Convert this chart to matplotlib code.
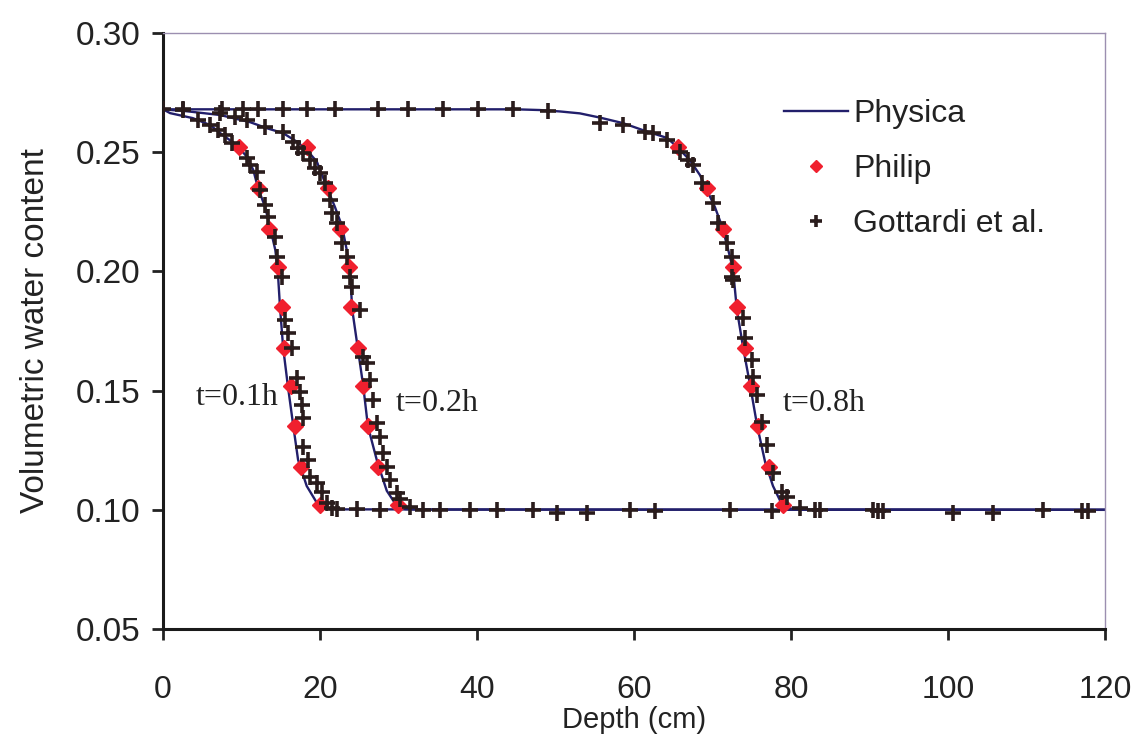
import matplotlib
matplotlib.use("Agg")
import matplotlib.pyplot as plt

# ---- Physica simulation curves (depth cm, volumetric water content) ----
physica_01_depth = [0, 0.9, 3.8, 6.0, 7.6, 9.4, 10.7, 11.5, 12.1, 13.0, 13.6, 14.3, 14.6,
                    14.9, 15.3, 15.9, 16.6, 17.2, 18.3, 19.6, 20.9, 22.5, 120]
physica_01_theta = [0.268, 0.2664, 0.2643, 0.2614, 0.2572, 0.253, 0.248, 0.2425, 0.235, 0.227,
                    0.219, 0.209, 0.201, 0.185, 0.168, 0.152, 0.135, 0.121, 0.110, 0.1029,
                    0.1008, 0.1002, 0.100]

physica_02_depth = [0, 3.0, 7.3, 11.1, 13.2, 15.3, 17.1, 18.3, 19.6, 20.9, 21.9, 22.8, 23.4,
                    23.8, 24.1, 24.8, 25.5, 26.1, 27.3, 28.5, 29.9, 30.9, 32.5, 120]
physica_02_theta = [0.268, 0.2672, 0.2656, 0.2626, 0.2601, 0.258, 0.2543, 0.251, 0.246, 0.235,
                    0.227, 0.219, 0.209, 0.201, 0.184, 0.168, 0.152, 0.135, 0.120, 0.108,
                    0.101, 0.1003, 0.1001, 0.100]

physica_08_depth = [0, 45.0, 48.0, 50.6, 53.1, 55.7, 58.6, 61.1, 64.2, 65.5, 67.1, 68.4, 69.3,
                    70.3, 71.2, 72.0, 72.6, 73.1, 73.9, 74.8, 75.7, 76.7, 77.7, 79.0, 80.5,
                    82.0, 120]
physica_08_theta = [0.268, 0.268, 0.2677, 0.2671, 0.2663, 0.2645, 0.2622, 0.2593, 0.256, 0.2522,
                    0.2467, 0.2404, 0.234, 0.227, 0.219, 0.209, 0.201, 0.184, 0.168, 0.152,
                    0.135, 0.120, 0.110, 0.1012, 0.1002, 0.1001, 0.100]

# ---- Philip analytical solution ----
philip_theta = [0.252, 0.235, 0.218, 0.202, 0.185, 0.168, 0.152, 0.135, 0.118, 0.102]
philip_01_depth = [9.7, 12.1, 13.5, 14.6, 15.2, 15.4, 16.3, 16.8, 17.6, 20.0]
philip_02_depth = [18.3, 21.0, 22.5, 23.7, 23.9, 24.8, 25.5, 26.1, 27.4, 29.9]
philip_08_depth = [65.6, 69.3, 71.3, 72.6, 73.1, 74.1, 74.9, 75.8, 77.2, 79.0]

# ---- Gottardi et al. numerical results ----
gott_01_depth = [2.5, 4.5, 6.0, 7.0, 7.9, 8.8, 10.7, 11.1, 12.0, 12.4, 13.0, 13.4, 14.3, 14.5,
                 15.2, 15.5, 15.9, 16.4, 17.1, 17.5, 17.7, 17.8, 17.8, 18.5, 18.7, 19.6,
                 20.3, 20.9, 21.5, 22.2, 24.7, 27.6]
gott_01_theta = [0.2677, 0.2635, 0.2614, 0.2593, 0.2572, 0.2539, 0.2476, 0.2446, 0.2417,
                 0.2341, 0.2279, 0.2228, 0.2144, 0.2060, 0.1977, 0.1796, 0.1742, 0.1679,
                 0.1553, 0.1494, 0.1440, 0.1385, 0.1263, 0.1209, 0.1138, 0.1112, 0.1075,
                 0.1029, 0.1008, 0.1005, 0.1002, 0.1000]

gott_02_depth = [7.3, 9.2, 10.7, 13.0, 15.3, 16.6, 17.2, 17.8, 18.7, 19.4, 20.0, 20.6, 21.3,
                 21.5, 22.2, 22.8, 23.4, 23.8, 24.1, 25.1, 25.5, 26.0, 26.4, 26.8, 27.3,
                 27.6, 28.0, 28.5, 28.9, 29.8, 30.2, 31.5, 33.1, 35.3, 39.1, 42.5, 47.1,
                 50.2, 54.0, 59.5, 62.7, 72.2, 77.6]
gott_02_theta = [0.2664, 0.2648, 0.2635, 0.2606, 0.2585, 0.2543, 0.2518, 0.2497, 0.2467,
                 0.2434, 0.2413, 0.2371, 0.2300, 0.2245, 0.2203, 0.2119, 0.2060, 0.1977,
                 0.1935, 0.1838, 0.1641, 0.1616, 0.1544, 0.1461, 0.1364, 0.1305, 0.1238,
                 0.1180, 0.1125, 0.1070, 0.1045, 0.1010, 0.1000, 0.1000, 0.1000, 0.1000,
                 0.1000, 0.0985, 0.0985, 0.1000, 0.0995, 0.1000, 0.0995]

gott_08_depth = [0, 2.5, 7.5, 10.2, 12.1, 15.3, 18.3, 21.9, 27.4, 31.2, 35.7, 40.1, 44.6,
                 49.0, 55.7, 58.6, 61.4, 62.4, 64.2, 65.9, 66.9, 67.5, 68.7, 70.1, 70.7,
                 71.8, 72.5, 72.5, 72.6, 73.9, 74.1, 75.0, 75.2, 75.7, 76.3, 76.9, 77.7,
                 78.9, 79.5, 81.1, 83.1, 83.7, 90.4, 91.1, 91.7, 100.6, 105.7, 112.1,
                 117.1, 117.8]
gott_08_theta = [0.268, 0.268, 0.268, 0.268, 0.268, 0.268, 0.268, 0.268, 0.268, 0.268, 0.268,
                 0.268, 0.268, 0.2672, 0.2622, 0.2614, 0.2585, 0.2581, 0.2551, 0.2501,
                 0.2467, 0.2446, 0.2371, 0.2287, 0.2203, 0.2119, 0.2060, 0.1977, 0.1964,
                 0.1805, 0.1721, 0.1628, 0.1557, 0.1482, 0.1368, 0.1272, 0.1154, 0.1075,
                 0.1054, 0.1008, 0.1000, 0.1000, 0.1000, 0.0995, 0.0995, 0.0985, 0.0985,
                 0.1000, 0.0995, 0.0995]

x_ticks = [0, 20, 40, 60, 80, 100, 120]
y_ticks = [0.05, 0.10, 0.15, 0.20, 0.25, 0.30]
time_labels = ["t=0.1h", "t=0.2h", "t=0.8h"]
time_label_pos = [(4.2, 0.147), (29.7, 0.1445), (78.9, 0.1445)]

LINE_C = "#221f6b"
CROSS_C = "#2a1c1c"
DIAMOND_C = "#f0202e"
TEXT_C = "#222222"

plt.rcParams["font.family"] = ["Liberation Sans", "DejaVu Sans"]

fig = plt.figure(figsize=(11.37, 7.39), dpi=100)
ax = fig.add_axes([0.1434, 0.1488, 0.8285, 0.8065])

line_kw = dict(color=LINE_C, lw=1.7, zorder=2)
ax.plot(physica_01_depth, physica_01_theta, label="Physica", **line_kw)
ax.plot(physica_02_depth, physica_02_theta, **line_kw)
ax.plot(physica_08_depth, physica_08_theta, **line_kw)

dia_kw = dict(ls="none", marker="D", ms=8.5, color=DIAMOND_C, mec=DIAMOND_C, zorder=3)
ax.plot(philip_01_depth, philip_theta, label="Philip", **dia_kw)
ax.plot(philip_02_depth, philip_theta, **dia_kw)
ax.plot(philip_08_depth, philip_theta, **dia_kw)

cross_kw = dict(ls="none", marker="+", ms=11.5, mew=2.6, color=CROSS_C, zorder=4)
ax.plot(gott_01_depth, gott_01_theta, label="Gottardi et al.", **cross_kw)
ax.plot(gott_02_depth, gott_02_theta, **cross_kw)
ax.plot(gott_08_depth, gott_08_theta, **cross_kw)

for txt, (xp, yp) in zip(time_labels, time_label_pos):
    ax.text(xp, yp, txt, family="Liberation Serif", fontsize=23, va="center", ha="left",
            color=TEXT_C)

ax.set_xlim(0, 120)
ax.set_ylim(0.05, 0.30)
ax.set_xticks(x_ticks)
ax.set_yticks(y_ticks)
ax.set_xticklabels([str(v) for v in x_ticks])
ax.set_yticklabels([f"{v:.2f}" for v in y_ticks])
ax.tick_params(axis="both", direction="out", length=8, width=2, colors=TEXT_C)
ax.tick_params(axis="x", pad=25, labelsize=23)
ax.tick_params(axis="y", pad=8, labelsize=24)

for side in ("left", "bottom"):
    ax.spines[side].set_linewidth(2.2)
    ax.spines[side].set_color("#1a1a1a")
for side in ("top", "right"):
    ax.spines[side].set_linewidth(1.0)
    ax.spines[side].set_color("#9c8fb0")

ax.set_xlabel("Depth (cm)", fontsize=21, color=TEXT_C, labelpad=1)
ax.set_ylabel("Volumetric water content", fontsize=24, color=TEXT_C, labelpad=18)

leg = ax.legend(loc="upper left", bbox_to_anchor=(0.629, 0.937), frameon=False,
                fontsize=23, handlelength=2.0, handletextpad=0.16, labelspacing=0.78,
                markerscale=0.75)
for t in leg.get_texts():
    t.set_color(TEXT_C)

fig.savefig("out.png", dpi=100, facecolor="white")
